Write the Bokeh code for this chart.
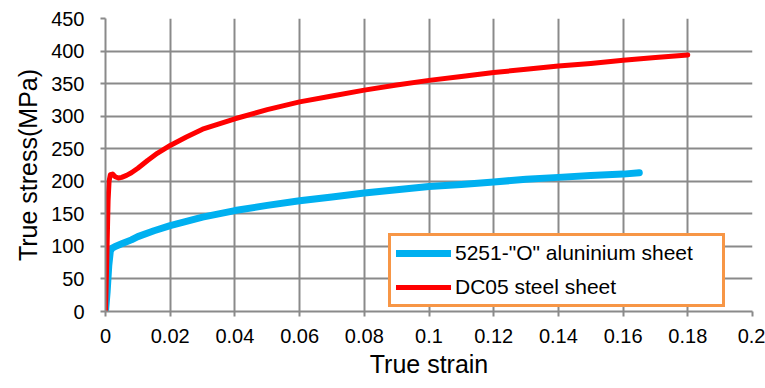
from bokeh.plotting import figure
from bokeh.models import Legend, LegendItem, Range1d, FixedTicker
from bokeh.embed import file_html
from bokeh.resources import INLINE

# DC05 steel sheet
steel_strain = [0, 0.0004, 0.0008, 0.0011, 0.0015, 0.0022, 0.003, 0.004, 0.005, 0.0065, 0.008, 0.01,
                0.013, 0.016, 0.02, 0.025, 0.03, 0.04, 0.05, 0.06, 0.07, 0.08, 0.09, 0.1,
                0.11, 0.12, 0.13, 0.14, 0.15, 0.16, 0.17, 0.18]
steel_stress = [0, 80, 170, 200, 210, 211, 207, 205, 206, 209, 213, 220,
                232, 243, 255, 268, 280, 296, 310, 322, 331, 340, 348, 355,
                361, 367, 372, 377, 381, 386, 390, 394]

# 5251-"O" aluminium sheet
alu_strain = [0, 0.0005, 0.001, 0.0015, 0.002, 0.003, 0.005, 0.008, 0.01, 0.015, 0.02, 0.03,
              0.04, 0.05, 0.06, 0.07, 0.08, 0.09, 0.1, 0.11, 0.12, 0.13, 0.14, 0.15, 0.16, 0.165]
alu_stress = [0, 30, 70, 93, 97, 100, 104, 110, 115, 124, 132, 145,
              155, 163, 170, 176, 182, 187, 192, 195, 199, 203, 206, 209, 211, 213]

x_ticks = [0, 0.02, 0.04, 0.06, 0.08, 0.1, 0.12, 0.14, 0.16, 0.18, 0.2]
x_tick_labels = ["0", "0.02", "0.04", "0.06", "0.08", "0.1", "0.12", "0.14", "0.16", "0.18", "0.2"]
y_ticks = [0, 50, 100, 150, 200, 250, 300, 350, 400, 450]

FONT = "Liberation Sans"
GRID = "#8a8a8a"

p = figure(width=765, height=388, output_backend="svg", toolbar_location=None,
           x_range=Range1d(0, 0.2), y_range=Range1d(0, 450),
           min_border_left=105, min_border_right=13, min_border_top=18, min_border_bottom=77)
p.outline_line_color = None
p.background_fill_color = "white"

for ax in (p.xaxis[0], p.yaxis[0]):
    ax.axis_line_color = GRID
    ax.axis_line_width = 2
    ax.major_tick_line_color = GRID
    ax.major_tick_line_width = 2
    ax.major_tick_out = 5
    ax.major_tick_in = 0
    ax.minor_tick_line_color = None
    ax.major_label_text_font = FONT
    ax.major_label_text_font_size = "20px"
    ax.major_label_text_color = "black"
    ax.axis_label_text_font = FONT
    ax.axis_label_text_font_size = "25px"
    ax.axis_label_text_font_style = "normal"
    ax.axis_label_text_color = "black"

p.xaxis.ticker = FixedTicker(ticks=x_ticks)
p.xaxis.major_label_overrides = {t: l for t, l in zip(x_ticks, x_tick_labels)}
p.yaxis.ticker = FixedTicker(ticks=y_ticks)
p.xaxis.axis_label = "True strain"
p.yaxis.axis_label = "True stress(MPa)"
p.xaxis.major_label_standoff = 12
p.yaxis.major_label_standoff = 16
p.xaxis.axis_label_standoff = 4
p.yaxis.axis_label_standoff = 6

p.xgrid.grid_line_color = GRID
p.ygrid.grid_line_color = GRID
p.xgrid.grid_line_width = 2
p.ygrid.grid_line_width = 2

r_alu = p.line(alu_strain, alu_stress, line_color="#00B0F0", line_width=7, line_cap="round", line_join="round")
r_steel = p.line(steel_strain, steel_stress, line_color="#FF0000", line_width=5, line_cap="round", line_join="round")

legend = Legend(items=[LegendItem(label='5251-"O" aluninium sheet', renderers=[r_alu]),
                       LegendItem(label="DC05 steel sheet", renderers=[r_steel])],
                location=(283, 4))
legend.border_line_color = "#F79646"
legend.border_line_alpha = 1
legend.border_line_width = 3
legend.background_fill_color = "white"
legend.background_fill_alpha = 1
legend.label_text_font = FONT
legend.label_text_font_size = "21px"
legend.label_text_color = "black"
legend.glyph_width = 55
legend.glyph_height = 24
legend.label_height = 24
legend.label_width = 262
legend.label_standoff = 4
legend.spacing = 10
legend.padding = 5
legend.margin = 0
p.add_layout(legend, "center")

open("out.html", "w").write(file_html(p, INLINE))
